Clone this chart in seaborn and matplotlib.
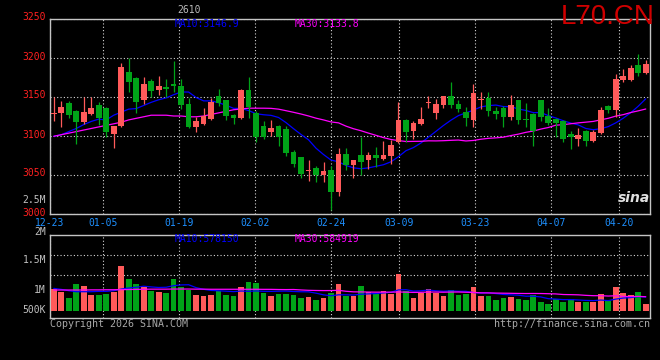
import numpy as np
import pandas as pd
import matplotlib
matplotlib.use("Agg")
import matplotlib.pyplot as plt
import matplotlib.transforms as mtransforms
import seaborn as sns

# daily bars 2025-12-23 .. 2026-04-24
opens = [3128, 3129, 3142, 3132, 3117, 3128, 3139, 3135, 3102, 3112,
         3181, 3174, 3145, 3170, 3158, 3162, 3166, 3163, 3140, 3111,
         3115, 3121, 3150, 3145, 3126, 3123, 3158, 3129, 3112, 3104,
         3112, 3108, 3079, 3072, 3054, 3058, 3049, 3056, 3028, 3076,
         3062, 3075, 3069, 3075, 3070, 3074, 3092, 3120, 3106, 3115,
         3142, 3129, 3139, 3150, 3140, 3130, 3120, 3145, 3148, 3132,
         3135, 3124, 3146, 3121, 3128, 3145, 3125, 3121, 3118, 3102,
         3096, 3106, 3093, 3103, 3138, 3133, 3171, 3171, 3190, 3180]
highs = [3150, 3144, 3144, 3133, 3150, 3150, 3143, 3136, 3112, 3193,
         3200, 3175, 3175, 3172, 3176, 3172, 3196, 3172, 3148, 3124,
         3135, 3148, 3160, 3146, 3127, 3160, 3175, 3131, 3119, 3120,
         3113, 3112, 3081, 3073, 3069, 3061, 3066, 3061, 3084, 3084,
         3069, 3098, 3079, 3085, 3093, 3094, 3143, 3121, 3118, 3137,
         3151, 3147, 3150, 3168, 3146, 3137, 3166, 3156, 3156, 3137,
         3138, 3152, 3146, 3142, 3129, 3146, 3135, 3122, 3120, 3106,
         3109, 3107, 3107, 3136, 3139, 3179, 3185, 3190, 3204, 3197]
lows = [3118, 3111, 3122, 3089, 3115, 3126, 3113, 3098, 3084, 3111,
        3156, 3129, 3140, 3150, 3152, 3150, 3156, 3134, 3109, 3104,
        3113, 3120, 3138, 3120, 3115, 3121, 3122, 3092, 3095, 3099,
        3086, 3074, 3059, 3046, 3042, 3041, 3041, 3004, 3022, 3056,
        3046, 3049, 3057, 3060, 3068, 3063, 3091, 3092, 3095, 3113,
        3135, 3121, 3135, 3135, 3130, 3112, 3111, 3134, 3125, 3121,
        3111, 3120, 3115, 3111, 3086, 3119, 3113, 3098, 3092, 3083,
        3087, 3087, 3092, 3102, 3129, 3124, 3169, 3170, 3176, 3179]
closes = [3129, 3136, 3126, 3117, 3130, 3135, 3122, 3104, 3112, 3188,
          3168, 3143, 3166, 3157, 3163, 3159, 3163, 3139, 3111, 3118,
          3125, 3143, 3142, 3125, 3123, 3158, 3136, 3098, 3098, 3110,
          3098, 3077, 3064, 3051, 3055, 3050, 3055, 3027, 3076, 3062,
          3068, 3066, 3075, 3071, 3075, 3088, 3120, 3104, 3116, 3121,
          3143, 3140, 3150, 3139, 3134, 3123, 3155, 3146, 3132, 3128,
          3124, 3139, 3120, 3120, 3106, 3124, 3116, 3116, 3096, 3098,
          3101, 3093, 3104, 3133, 3133, 3172, 3176, 3186, 3180, 3192]
volumes = [895000, 798000, 546000, 1121000, 1037000, 659000, 659000, 701000, 798000, 1877000,
           1331000, 1121000, 979000, 827000, 798000, 756000, 1331000, 1008000, 869000, 659000,
           630000, 659000, 827000, 659000, 617000, 1008000, 1218000, 1147000, 727000, 630000,
           701000, 701000, 659000, 546000, 588000, 449000, 517000, 756000, 1121000, 630000,
           617000, 1037000, 798000, 701000, 840000, 701000, 1541000, 827000, 546000, 756000,
           911000, 727000, 617000, 869000, 659000, 701000, 1008000, 630000, 617000, 449000,
           546000, 559000, 475000, 449000, 659000, 378000, 281000, 475000, 378000, 475000,
           378000, 378000, 378000, 701000, 420000, 1008000, 727000, 659000, 798000, 281000]

# moving averages before enough bars exist in the window
ma10_head = [3099, 3101, 3105, 3109, 3114, 3118, 3121, 3120, 3126]
ma30_head = [3099, 3101, 3103, 3105, 3107, 3109, 3111, 3113, 3115, 3117,
             3120, 3122, 3124, 3126, 3126, 3126, 3125, 3125, 3124, 3124,
             3125, 3127, 3129, 3131, 3133, 3134, 3135, 3135, 3135]
vol_ma10_head = [938000, 896000, 840000, 798000, 798000, 798000, 812000, 812000, 840000]
vol_ma30_head = [869000, 869000, 869000, 869000, 869000, 875000, 875000, 880000, 880000, 885000,
                 890000, 895000, 900000, 905000, 905000, 905000, 910000, 910000, 910000, 905000,
                 905000, 900000, 900000, 900000, 900000, 900000, 900000, 900000, 897000]

date_index = [0, 7, 17, 27, 37, 46, 56, 66, 75]
date_labels = ["12-23", "01-05", "01-19", "02-02", "02-24", "03-09", "03-23", "04-07", "04-20"]
price_ticks = [3000, 3050, 3100, 3150, 3200, 3250]
vol_labels = ["2.5M", "2M", "1.5M", "1M", "500K"]
symbol = "2610"
ma_price_labels = ["MA10:3146.9", "MA30:3133.8"]
ma_vol_labels = ["MA10:578150", "MA30:584919"]

RED = "#FF5A5A"
GREEN = "#00A318"
BLUE = "#0000FF"
MAGENTA = "#FF00FF"
GRID = "#D8D8D8"
FRAME = "#C4C4C4"

sns.set_style("dark", {"axes.facecolor": "black", "figure.facecolor": "black"})
plt.rcParams["font.family"] = ["DejaVu Sans Mono"]

n = len(closes)
df = pd.DataFrame({"i": range(n), "open": opens, "high": highs,
                   "low": lows, "close": closes, "volume": volumes})
df["dir"] = np.where(df["close"] >= df["open"], "up", "down")
df["ma10"] = df["close"].rolling(10).mean()
df.loc[:8, "ma10"] = ma10_head
df["ma30"] = df["close"].rolling(30).mean()
df.loc[:28, "ma30"] = ma30_head
df["vma10"] = df["volume"].rolling(10).mean()
df.loc[:8, "vma10"] = vol_ma10_head
df["vma30"] = df["volume"].rolling(30).mean()
df.loc[:28, "vma30"] = vol_ma30_head
colors = np.where(df["dir"] == "up", RED, GREEN)

# the date grid of the source is laid out on n-1 slots, the bars on n
grid_x = [d * n / (n - 1) - 0.5 for d in date_index]

W, H = 660, 360
def box(l, t, r, b):
    return [l / W, 1 - b / H, (r - l) / W, (b - t) / H]
def fx(px):
    return px / W
def fy(py):
    return 1 - py / H

fig = plt.figure(figsize=(6.6, 3.6), dpi=100, facecolor="black")
ax = fig.add_axes(box(50, 18.5, 649.5, 213.5))
axv = fig.add_axes(box(50, 234.7, 649.5, 318.3))

# price panel
sns.lineplot(data=df, x="i", y="ma10", ax=ax, color=BLUE, lw=0.9, zorder=2)
sns.lineplot(data=df, x="i", y="ma30", ax=ax, color=MAGENTA, lw=0.9, zorder=2)
ax.vlines(df["i"], df["low"], df["high"], colors=colors, lw=0.9, zorder=3)
body_lo = np.minimum(df["open"], df["close"])
body_h = np.maximum((df["close"] - df["open"]).abs(), 1.2)
ax.bar(df["i"], body_h, bottom=body_lo, width=0.76, color=colors, lw=0, zorder=4)
ax.set_xlim(-0.5, n - 0.5)
ax.set_ylim(3000, 3250)
ax.set_yticks(price_ticks)
ax.set_xticks(grid_x)
ax.set_xticklabels(date_labels)
ax.tick_params(axis="y", length=0, pad=3, labelsize=7, labelcolor="#FF2020")
ax.tick_params(axis="x", length=0, pad=3, labelsize=7, labelcolor="#1E90FF")
ax.set_xlabel("")
ax.set_ylabel("")
# price labels sit a touch above their grid rows in the source
lift = mtransforms.ScaledTranslation(0, 0.02, fig.dpi_scale_trans)
for lab in ax.get_yticklabels():
    lab.set_transform(lab.get_transform() + lift)

# volume panel, 42k lots per pixel, zero at pixel row 310.7
VOL_BASE_PX, VOL_PER_PX = 310.7, 42000
def vol_at(py):
    return (VOL_BASE_PX - py) * VOL_PER_PX

sns.barplot(data=df, x="i", y="volume", hue="dir", palette={"up": RED, "down": GREEN},
            dodge=False, width=0.76, saturation=1, legend=False, linewidth=0, ax=axv, zorder=3)
sns.lineplot(data=df, x="i", y="vma10", ax=axv, color=BLUE, lw=0.9, zorder=4)
sns.lineplot(data=df, x="i", y="vma30", ax=axv, color=MAGENTA, lw=0.9, zorder=4)
axv.set_xlim(-0.5, n - 0.5)
axv.set_ylim(vol_at(318.3), vol_at(234.7))
axv.set_yticks([vol_at(255), vol_at(275)])
axv.set_yticklabels([])
axv.set_xticks(grid_x)
axv.set_xticklabels([])
axv.tick_params(length=0)
axv.set_xlabel("")
axv.set_ylabel("")

for a in (ax, axv):
    a.set_facecolor("black")
    a.grid(True, color=GRID, ls=(0, (1, 2)), lw=0.8)
    a.set_axisbelow(True)
    for s in a.spines.values():
        s.set_visible(True)
        s.set_color(FRAME)
        s.set_linewidth(1)

# texts
fig.text(fx(189), fy(10), symbol, color="#BBBBBB", fontsize=7, ha="center", va="center")
fig.text(fx(655), fy(17), "L70.CN", color="#D00000", fontsize=20, ha="right", va="center",
         family=["Liberation Sans"])
fig.text(fx(175), fy(24), ma_price_labels[0], color=BLUE, fontsize=7, va="center")
fig.text(fx(295), fy(24), ma_price_labels[1], color=MAGENTA, fontsize=7, va="center")
fig.text(fx(175), fy(239), ma_vol_labels[0], color=BLUE, fontsize=7, va="center")
fig.text(fx(295), fy(239), ma_vol_labels[1], color=MAGENTA, fontsize=7, va="center")
for lab, py in zip(vol_labels, [200, 231.5, 260.3, 290.3, 310.3]):
    fig.text(fx(46), fy(py), lab, color="#C0C0C0", fontsize=7, ha="right", va="center")
fig.text(fx(50), fy(324), "Copyright 2026 SINA.COM", color="#A8A8A8", fontsize=7.2, va="center")
fig.text(fx(650), fy(324), "http://finance.sina.com.cn", color="#A8A8A8", fontsize=7.2,
         ha="right", va="center")
fig.text(fx(634), fy(198), "sina", color="#E0E0E0", fontsize=10, ha="center", va="center",
         style="italic", weight="bold", family=["DejaVu Sans"])

fig.savefig("out.png", dpi=100, facecolor="black")
